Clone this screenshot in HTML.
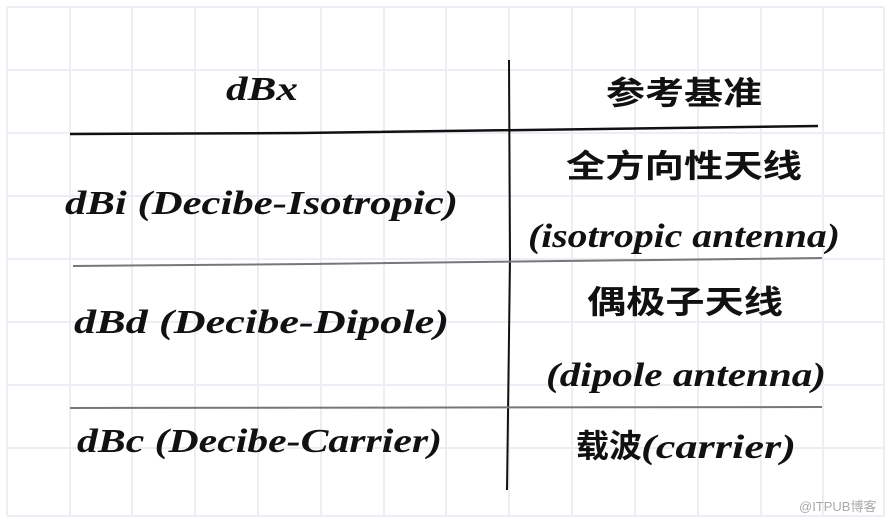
<!DOCTYPE html>
<html><head><meta charset="utf-8">
<style>html,body{margin:0;padding:0;background:#fff;}svg{display:block}</style>
</head><body>
<svg width="889" height="522" viewBox="0 0 889 522" xmlns="http://www.w3.org/2000/svg">
<rect width="889" height="522" fill="#fff"/>
<g stroke="#eceef3" stroke-width="2">
<line x1="7" y1="7" x2="7" y2="516"/><line x1="70" y1="7" x2="70" y2="516"/><line x1="132" y1="7" x2="132" y2="516"/><line x1="195" y1="7" x2="195" y2="516"/><line x1="258" y1="7" x2="258" y2="516"/><line x1="321" y1="7" x2="321" y2="516"/><line x1="384" y1="7" x2="384" y2="516"/><line x1="446" y1="7" x2="446" y2="516"/><line x1="509" y1="7" x2="509" y2="516"/><line x1="572" y1="7" x2="572" y2="516"/><line x1="635" y1="7" x2="635" y2="516"/><line x1="698" y1="7" x2="698" y2="516"/><line x1="761" y1="7" x2="761" y2="516"/><line x1="823" y1="7" x2="823" y2="516"/><line x1="884" y1="7" x2="884" y2="516"/>
<line x1="7" y1="7" x2="884" y2="7"/><line x1="7" y1="70" x2="884" y2="70"/><line x1="7" y1="133" x2="884" y2="133"/><line x1="7" y1="196" x2="884" y2="196"/><line x1="7" y1="259" x2="884" y2="259"/><line x1="7" y1="322" x2="884" y2="322"/><line x1="7" y1="385" x2="884" y2="385"/><line x1="7" y1="448" x2="884" y2="448"/><line x1="7" y1="516" x2="884" y2="516"/>
</g>
<path d="M70 134 L300 133 L818 126" stroke="#111" stroke-width="2.5" fill="none"/>
<path d="M509 60 L510 260 L507 490" stroke="#111" stroke-width="2" fill="none"/>
<path d="M73 266 L310 264 L822 258" stroke="#777" stroke-width="2" fill="none"/>
<path d="M70 408 L822 407" stroke="#777" stroke-width="2" fill="none"/>
<g font-family="'Liberation Serif',serif" font-style="italic" font-weight="bold" font-size="34" fill="#111">
<text x="226" y="100" textLength="72" lengthAdjust="spacingAndGlyphs">dBx</text>
<text x="65" y="214" textLength="393" lengthAdjust="spacingAndGlyphs">dBi (Decibe-Isotropic)</text>
<text x="74" y="333" textLength="375" lengthAdjust="spacingAndGlyphs">dBd (Decibe-Dipole)</text>
<text x="77" y="452" textLength="365" lengthAdjust="spacingAndGlyphs">dBc (Decibe-Carrier)</text>
<text x="528" y="247" textLength="312" lengthAdjust="spacingAndGlyphs">(isotropic antenna)</text>
<text x="546" y="386" textLength="280" lengthAdjust="spacingAndGlyphs">(dipole antenna)</text>
<text x="641" y="458" textLength="155" lengthAdjust="spacingAndGlyphs">(carrier)</text>
</g>
<g font-family="'Liberation Sans','Noto Sans CJK SC',sans-serif" font-weight="bold" font-size="32" fill="#111">
<text x="606" y="104" textLength="156" lengthAdjust="spacingAndGlyphs">参考基准</text>
<text x="566" y="177" textLength="236" lengthAdjust="spacingAndGlyphs">全方向性天线</text>
<text x="587" y="313" textLength="196" lengthAdjust="spacingAndGlyphs">偶极子天线</text>
<text x="576" y="457" textLength="66" lengthAdjust="spacingAndGlyphs">载波</text>
</g>
<text x="799" y="511" font-family="'Liberation Sans','Noto Sans CJK SC',sans-serif" font-size="13" fill="#aaa">@ITPUB博客</text>
</svg>
</body></html>
